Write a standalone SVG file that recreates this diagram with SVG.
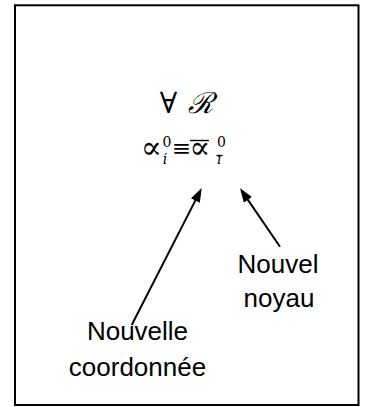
<svg xmlns="http://www.w3.org/2000/svg" width="370" height="407" viewBox="0 0 370 407">
  <defs>
    <marker id="head" viewBox="0 0 14 10" refX="10" refY="5" markerWidth="14" markerHeight="10" markerUnits="userSpaceOnUse" orient="auto">
      <path d="M0,0 L14,5 L0,10 z" fill="#000"/>
    </marker>
    <style>
      .frame { fill: #fff; stroke: #000; stroke-width: 2; }
      .label { font-family: "Liberation Sans", Arial, sans-serif; font-size: 26px; fill: #000; text-anchor: middle; }
      .math { font-family: "DejaVu Serif", "Liberation Serif", serif; fill: #000; text-anchor: middle; }
      .big { font-size: 29px; }
      .prop { font-size: 31px; }
      .rel { font-size: 23px; }
      .small { font-size: 14px; }
      .it { font-style: italic; }
      .arrow { stroke: #000; stroke-width: 2; fill: none; marker-end: url(#head); }
      .bar { stroke: #000; stroke-width: 1.4; }
    </style>
  </defs>

  <rect class="frame" x="15" y="5.3" width="343.5" height="399.7"/>

  <!-- quantifier line -->
  <g id="forall">
    <text class="math big" x="168.5" y="113">∀</text>
    <text class="math big it" x="200" y="113">ℛ</text>
  </g>

  <!-- equivalence formula -->
  <g id="formula">
    <text class="math prop" x="151.5" y="158">∝</text>
    <text class="math small" x="167" y="147">0</text>
    <text class="math small it" x="165" y="164">i</text>
    <text class="math rel" x="181.5" y="156">≡</text>
    <line class="bar" x1="190" y1="140.5" x2="209" y2="140.5"/>
    <text class="math prop" x="200" y="158">∝</text>
    <text class="math small" x="221.5" y="147">0</text>
    <text class="math small it" x="219" y="164">ı</text>
    <line class="bar" x1="216.5" y1="155.5" x2="222.5" y2="155.5"/>
  </g>

  <g id="nouvel-noyau">
    <text class="label" x="278" y="273">Nouvel</text>
    <text class="label" x="279" y="307">noyau</text>
  </g>

  <g id="nouvelle-coordonnee">
    <text class="label" x="137.5" y="340">Nouvelle</text>
    <text class="label" x="137.5" y="376">coordonnée</text>
  </g>

  <g id="connectors">
    <line class="arrow" x1="131.7" y1="325" x2="199.9" y2="191.6"/>
    <line class="arrow" x1="280" y1="246.7" x2="242.3" y2="191.6"/>
  </g>
</svg>
